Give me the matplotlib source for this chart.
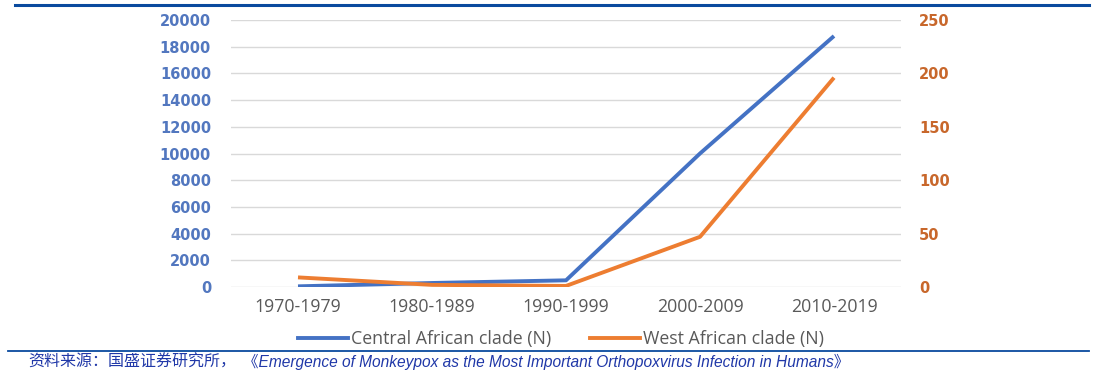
import matplotlib
matplotlib.use("Agg")
import matplotlib.pyplot as plt
from matplotlib.lines import Line2D

categories = ["1970-1979", "1980-1989", "1990-1999", "2000-2009", "2010-2019"]
central = [50, 300, 500, 10000, 18800]
west = [9, 2, 1, 47, 196]
left_ticks = list(range(0, 20001, 2000))
right_ticks = list(range(0, 251, 50))

W, H = 1117, 378
fig = plt.figure(figsize=(W / 100, H / 100), dpi=100)

def fx(x): return x / W
def fy(y): return 1 - y / H

ax = fig.add_axes([fx(231), fy(287), fx(901) - fx(231), fy(20) - fy(287)])
ax2 = ax.twinx()

x = list(range(len(categories)))
blue = "#4472C4"
orange = "#ED7D31"
ax.plot(x, central, color=blue, lw=2.8, solid_capstyle="butt", zorder=3)
ax2.plot(x, west, color=orange, lw=2.8, solid_capstyle="butt", zorder=3)

ax.set_xlim(-0.5, len(categories) - 0.5)
ax.set_ylim(0, 20000)
ax2.set_ylim(0, 250)
ax.set_yticks(left_ticks)
ax2.set_yticks(right_ticks)
ax.set_yticklabels([str(v) for v in left_ticks], fontsize=10.5, fontweight="bold",
                   color="#5277BF", fontfamily="DejaVu Sans")
ax2.set_yticklabels([str(v) for v in right_ticks], fontsize=10.5, fontweight="bold",
                    color="#C8672B", fontfamily="DejaVu Sans")
ax.set_xticks(x)
ax.set_xticklabels(categories, fontsize=12.8, color="#595959", fontfamily="Open Sans")
ax.tick_params(axis="both", length=0)
ax.tick_params(axis="y", pad=14.4)
ax.tick_params(axis="x", pad=8)
ax2.tick_params(axis="y", length=0, pad=13)
ax.grid(axis="y", color="#D9D9D9", lw=1)
ax.set_axisbelow(True)
for a in (ax, ax2):
    for s in a.spines.values():
        s.set_visible(False)

handles = [Line2D([], [], color=blue, lw=2.8), Line2D([], [], color=orange, lw=2.8)]
fig.legend(handles, ["Central African clade (N)", "West African clade (N)"],
           loc="center", bbox_to_anchor=(fx(561), fy(339)), ncol=2, frameon=False,
           prop={"family": "Open Sans", "size": 12.8}, labelcolor="#595959",
           handlelength=2.8, handletextpad=0.15, columnspacing=2.2)

fig.add_artist(Line2D([fx(15), fx(1089)], [fy(5), fy(5)], color="#0A4A9E", lw=2.2))
fig.add_artist(Line2D([fx(8), fx(1089)], [fy(351), fy(351)], color="#0A4A9E", lw=1.3))

src_color = "#2038A8"
t1 = fig.text(fx(28), fy(362), "资料来源：国盛证券研究所，", fontsize=11.5, color=src_color,
              va="center", ha="left", family=["Noto Sans CJK SC", "DejaVu Sans"])
t2 = fig.text(fx(243), fy(362),
              "《Emergence of Monkeypox as the Most Important Orthopoxvirus Infection in Humans》",
              fontsize=11.5, color=src_color, style="italic", va="center", ha="left",
              family=["Liberation Sans", "Noto Sans CJK SC"])
# fit English part to reference width
fig.canvas.draw()
r = fig.canvas.get_renderer()
w = t2.get_window_extent(r).width
t2.set_fontsize(11.5 * 610 / w)

fig.savefig("out.png", dpi=100, facecolor="white")
